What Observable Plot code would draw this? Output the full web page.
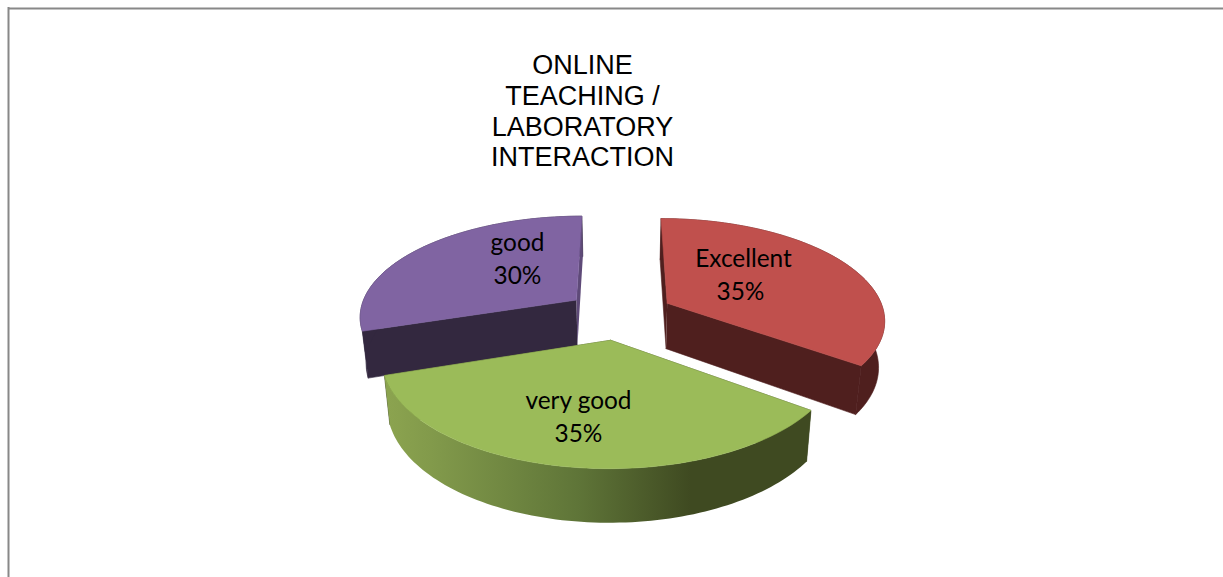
<!DOCTYPE html>
<html>
<head>
<meta charset="utf-8">
<script src="https://cdn.jsdelivr.net/npm/d3@7"></script>
<script src="https://cdn.jsdelivr.net/npm/@observablehq/plot@0.6"></script>
<style>
  html, body { margin: 0; padding: 0; background: #fff; }
  svg { display: block; }
</style>
</head>
<body>
<div id="chart"></div>
<script>
// ---- data ----
const titleLines = ["ONLINE", "TEACHING /", "LABORATORY", "INTERACTION"];
const categories = ["Excellent", "very good", "good"];
const shares = [35, 35, 30];

// ---- styles ----
const topColors = ["#c0504d", "#9bbb59", "#8064a2"];
const wallColors = ["#4f1f1e", "url(#greenWall)", "#33283f"];
const radialColors = ["#4f1f1e", "#3f4a21", "#33283f"];
const W = 1223, H = 577;

// ---- 3D pie projection (unit disc to page) ----
const view = {cx: 619, cy: 314, A: 217.6, B: 100.5, k: 0.15, explode: 0.25, depth: 46, k2: 0.12, shrink: 0.977};
function topPoint(X, Z) {
  const w = 1 + view.k * Z;
  return {x: view.cx + view.A * X / w, y: view.cy - view.B * Z / w};
}
function bottomPoint(X, Z) {
  const p = topPoint(X, Z);
  return {
    x: view.cx + (p.x - view.cx) * view.shrink,
    y: p.y + view.depth / (1 + view.k2 * Z)
  };
}
const total = d3.sum(shares);
let acc = 0;
const slices = categories.map((name, i) => {
  const a0 = acc / total * 2 * Math.PI;
  acc += shares[i];
  const a1 = acc / total * 2 * Math.PI;
  const mid = (a0 + a1) / 2;
  return {name, share: shares[i], i, a0, a1,
    ox: view.explode * Math.sin(mid), oz: view.explode * Math.cos(mid)};
});
function arc(s, fn) {
  const n = 90, out = [];
  for (let j = 0; j <= n; ++j) {
    const a = s.a0 + (s.a1 - s.a0) * j / n;
    out.push(fn(s.ox + Math.sin(a), s.oz + Math.cos(a)));
  }
  return out;
}
const polygons = [];
// purple first, then red, then green in front
for (const i of [2, 0, 1]) {
  const s = slices[i];
  const tArc = arc(s, topPoint), bArc = arc(s, bottomPoint);
  const tC = topPoint(s.ox, s.oz), bC = bottomPoint(s.ox, s.oz);
  const endWall = [tC, tArc[tArc.length - 1], bArc[bArc.length - 1], bC];
  polygons.push({pts: [tC, tArc[0], bArc[0], bC], fill: radialColors[i], stroke: radialColors[i]});
  if (i !== 2) polygons.push({pts: endWall, fill: radialColors[i], stroke: radialColors[i]});
  polygons.push({pts: [...tArc, ...bArc.slice().reverse()], fill: wallColors[i], stroke: i === 1 ? "none" : wallColors[i]});
  if (i === 2) polygons.push({pts: endWall, fill: "#5e4a78", stroke: "none"});
  polygons.push({pts: [tC, ...tArc, tC], fill: topColors[i], stroke: topColors[i]});
}

// ---- label placement ----
const nameAt = [{x: 743, y: 259}, {x: 578, y: 401}, {x: 517, y: 243}];
const shareAt = [{x: 740, y: 292}, {x: 578, y: 434}, {x: 517, y: 276}];
const nameLabels = slices.map((s, i) => ({text: s.name, ...nameAt[i]}));
const shareLabels = slices.map((s, i) => ({text: `${s.share}%`, ...shareAt[i]}));

const gradient = () => {
  const defs = d3.create("svg:defs");
  const g = defs.append("linearGradient").attr("id", "greenWall")
    .attr("gradientUnits", "userSpaceOnUse")
    .attr("x1", 389).attr("x2", 807).attr("y1", 0).attr("y2", 0);
  [[0, "#8ba34f"], [0.12, "#80984a"], [0.45, "#5f7538"], [0.72, "#3f4a21"], [1, "#3f4a21"]]
    .forEach(([o, c]) => g.append("stop").attr("offset", o).attr("stop-color", c));
  return defs.node();
};

const labelStyle = {x: "x", y: "y", text: "text", lineAnchor: "middle", fontFamily: "Lato", fontSize: 24.4, fill: "#000"};
const chart = Plot.plot({
  width: W, height: H, margin: 0,
  x: {domain: [0, W], range: [0, W], axis: null},
  y: {domain: [0, H], range: [0, H], axis: null},
  marks: [
    gradient,
    Plot.ruleY([8], {x1: 8, x2: W, stroke: "#888", strokeWidth: 2}),
    Plot.ruleX([8], {y1: 7, y2: H, stroke: "#888", strokeWidth: 2}),
    ...polygons.map(p => Plot.line(p.pts, {x: "x", y: "y", fill: p.fill, stroke: p.stroke, strokeWidth: 0.6, curve: "linear"})),
    Plot.text([titleLines.join("\n")], {
      x: () => 582, y: () => 110, text: d => d, lineHeight: 1.135, lineAnchor: "middle",
      fontFamily: "Liberation Sans", fontSize: 27, fill: "#000"
    }),
    Plot.text(nameLabels, labelStyle),
    Plot.text(shareLabels, labelStyle)
  ]
});
document.getElementById("chart").appendChild(chart);
</script>
</body>
</html>
